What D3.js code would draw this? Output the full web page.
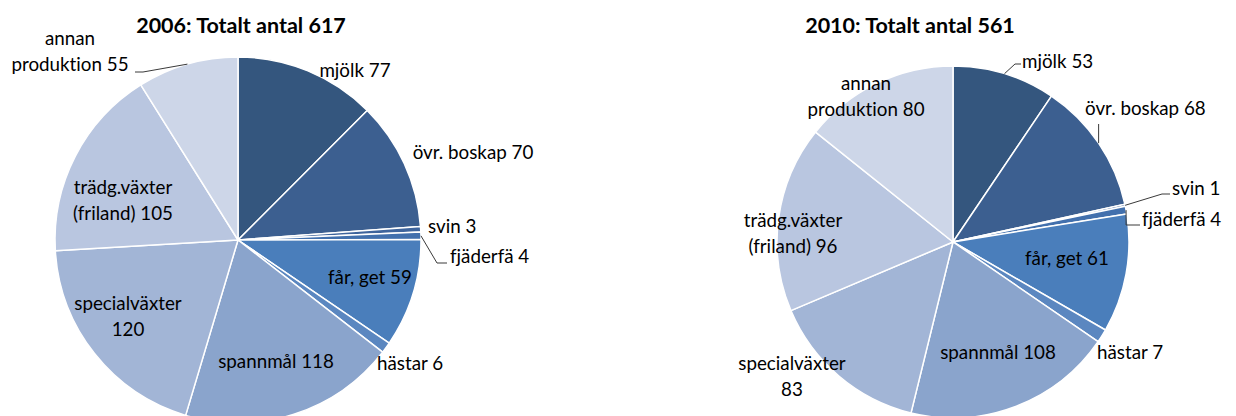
<!DOCTYPE html>
<html><head><meta charset="utf-8">
<script src="https://cdn.jsdelivr.net/npm/d3@7"></script>
<style>
html,body{margin:0;padding:0;background:#fff;}
svg{display:block;}
text{font-family:Lato,"Noto Sans",sans-serif;fill:#000;font-variant-ligatures:none;font-feature-settings:"liga" 0;}
</style></head>
<body><svg id="c" width="1236" height="416"></svg>
<script>
// ---- data ----
const categories = ["mjölk","övr. boskap","svin","fjäderfä","får, get","hästar","spannmål","specialväxter","trädg.växter (friland)","annan produktion"];
const values2006 = [77,70,3,4,59,6,118,120,105,55];
const values2010 = [53,68,1,4,61,7,108,83,96,80];
const titles = ["2006: Totalt antal 617","2010: Totalt antal 561"];

// ---- styles / layout ----
const colors = ["#34567e","#3c5f90","#3e649c","#4270ad","#4a7ebb","#5b87c0","#8aa4cc","#a2b5d6","#b9c6e0","#cdd6e8"];
const charts = [
  {values: values2006, title: titles[0], cx: 238, cy: 240, r: 183, titleX: 241,
   labels: [
    {dx:117, dy:-163, a:"middle"},
    {dx:235, dy:-81, a:"middle"},
    {dx:190, dy:-7, a:"start"},
    {dx:212, dy:23, a:"start", leader:[[199,23],[209,23]]},
    {dx:132, dy:44, a:"middle"},
    {dx:139, dy:130, a:"start"},
    {dx:38, dy:128, a:"middle"},
    {dx:-110, dy:70, a:"middle", brk:1},
    {dx:-115, dy:-46, a:"middle", brk:1},
    {dx:-168, dy:-195, a:"middle", brk:1, leader:[[-95,-168],[-103,-168]]}
   ]},
  {values: values2010, title: titles[1], cx: 953, cy: 242, r: 176, titleX: 910,
   labels: [
    {dx:69, dy:-174, a:"start", leader:[[62,-178],[68,-178]]},
    {dx:132, dy:-127, a:"start", leader:[[null,-118]]},
    {dx:219, dy:-47, a:"start", leader:[[209,-48],[217,-48]]},
    {dx:189, dy:-16, a:"start", leader:[[null,-17],[187,-17]]},
    {dx:114, dy:23, a:"middle"},
    {dx:144, dy:117, a:"start"},
    {dx:45, dy:117, a:"middle"},
    {dx:-161, dy:128, a:"middle", brk:1},
    {dx:-160, dy:-15, a:"middle", brk:1},
    {dx:-87, dy:-152, a:"middle", brk:1}
   ]}
];
const fontSize = 18.8;
const lineH = 26;

const svg = d3.select("#c");
const pie = d3.pie().sort(null).value(d => d);

charts.forEach(ch => {
  const g = svg.append("g").attr("transform", `translate(${ch.cx},${ch.cy})`);
  const arc = d3.arc().innerRadius(0).outerRadius(ch.r);
  const edge = d3.arc().innerRadius(ch.r).outerRadius(ch.r);
  const arcs = pie(ch.values);

  g.selectAll("path.slice").data(arcs).join("path")
    .attr("class","slice")
    .attr("d", arc)
    .attr("fill", (d,i) => colors[i])
    .attr("stroke", "#fff")
    .attr("stroke-width", 1.5)
    .attr("stroke-linejoin","round");

  // leaders
  arcs.forEach((d,i) => {
    const L = ch.labels[i];
    if (!L.leader) return;
    const s = edge.centroid(d);
    const pts = [s].concat(L.leader.map(p => [p[0] === null ? s[0] : p[0], p[1]]));
    g.append("path")
      .attr("d", d3.line()(pts))
      .attr("fill","none")
      .attr("stroke","#3a3a3a")
      .attr("stroke-width",1);
  });

  // labels
  arcs.forEach((d,i) => {
    const L = ch.labels[i];
    const words = (categories[i] + " " + ch.values[i]).split(" ");
    const lines = L.brk ? [words.slice(0,L.brk).join(" "), words.slice(L.brk).join(" ")] : [words.join(" ")];
    const t = g.append("text")
      .attr("x", L.dx).attr("y", L.dy)
      .attr("text-anchor", L.a)
      .style("font-size", fontSize + "px");
    lines.forEach((ln,k) => {
      t.append("tspan").attr("x", L.dx).attr("dy", k ? lineH : 0).text(ln);
    });
  });

  svg.append("text")
    .attr("x", ch.titleX).attr("y", 33)
    .attr("text-anchor","middle")
    .style("font-size","21.5px")
    .style("font-weight","bold")
    .text(ch.title);
});
</script>
</body></html>
